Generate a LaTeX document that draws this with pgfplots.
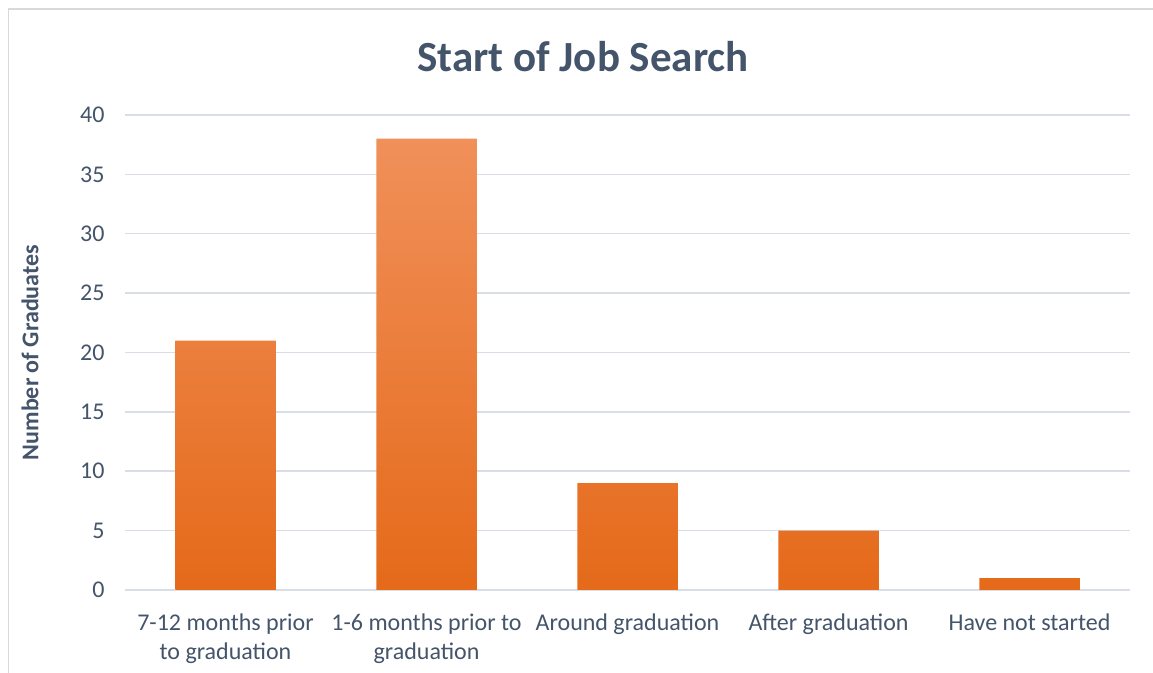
\documentclass[border=0pt]{standalone}
\usepackage{pgfplots}
\pgfplotsset{compat=1.18}
\usepackage{fontspec}
\setmainfont{Carlito}
\definecolor{txt}{HTML}{44546A}
\definecolor{gridc}{HTML}{D9DEE6}
\definecolor{frame}{HTML}{D9D9D9}
\definecolor{otop}{HTML}{F0905A}
\definecolor{omid}{HTML}{F4812F}
\definecolor{obot}{HTML}{E56A1A}
\begin{document}
\begin{tikzpicture}[x=1bp,y=1bp]
\path[use as bounding box] (0,0) rectangle (1153,673);
\draw[frame,line width=1.5bp] (8.5,0) -- (8.5,664) -- (1153,664);
\begin{axis}[
  at={(125bp,83bp)}, anchor=south west,
  scale only axis, width=1005bp, height=475bp,
  xmin=-0.5, xmax=4.5, ymin=0, ymax=40,
  ytick={0,5,...,40},
  xtick={0,1,2,3,4},
  xticklabels={{7-12 months prior\\to graduation},{1-6 months prior to\\graduation},{Around graduation},{After graduation},{Have not started}},
  x tick label style={align=center, font=\fontsize{24bp}{29bp}\selectfont, text=txt, anchor=north, yshift=-20bp},
  y tick label style={font=\fontsize{24bp}{28bp}\selectfont, text=txt},
  /pgf/number format/assume math mode=true,
  major tick length=0pt,
  axis line style={draw=none},
  ymajorgrids, xmajorgrids=false, grid style={draw=gridc, line width=1.5bp},
  yticklabel style={xshift=-17bp},
  ylabel={\textbf{Number of Graduates}},
  ylabel style={font=\fontsize{24bp}{28bp}\selectfont, text=txt},
  every axis y label/.append style={at={(-95bp,237.5bp)}, anchor=center},
  clip=false,
]
\addplot[ybar, bar width=0.5, draw=none, top color=otop, middle color=omid, bottom color=obot] coordinates {(0,21) (1,38) (2,9) (3,5) (4,1)};
\end{axis}
\node[text=txt, font=\fontsize{43bp}{50bp}\selectfont\bfseries] at (583,616) {Start of Job Search};
\end{tikzpicture}
\end{document}
